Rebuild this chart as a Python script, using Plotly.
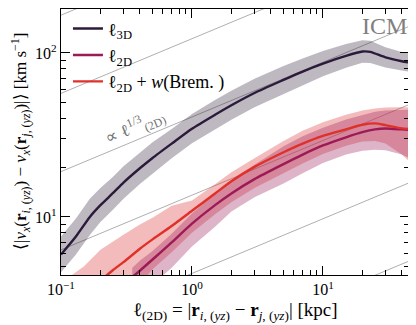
import numpy as np
import plotly.graph_objects as go

# ---- data (log-log) ----
x_3d = [0.1, 0.13, 0.166, 0.2, 0.25, 0.3, 0.4, 0.5, 0.7, 1.0, 1.5, 2.0, 3.0,
        5.0, 7.0, 10, 15, 20, 23, 30, 40, 45]
v_3d = [5.9, 7.6, 10.0, 11.8, 14.0, 16.2, 19.8, 22.9, 28.0, 34.5, 42.0, 48.0,
        57.0, 68.5, 77.0, 86, 96, 102, 101.5, 94, 89, 87.5]
hi_3d = [7.6, 9.8, 12.9, 15.0, 17.6, 20.4, 24.6, 28.5, 34.4, 42.4, 51.6, 58.8,
         69.6, 83.3, 92.6, 102.6, 113.3, 119.6, 118.8, 108.4, 101.4, 99.4]
lo_3d = [4.6, 5.9, 7.75, 9.3, 11.1, 12.9, 15.9, 18.4, 22.8, 28.1, 34.2, 39.2,
         46.7, 56.3, 64.0, 72.1, 81.3, 87.0, 86.7, 81.5, 78.1, 77.0]

x_2d = [0.35, 0.4, 0.5, 0.7, 1.0, 1.5, 2.0, 3.0, 5.0, 7.0, 10, 15, 20, 25,
        30, 40, 45]
v_2d = [4.3, 4.7, 5.5, 7.0, 9.1, 11.8, 13.9, 17.0, 21.0, 24.0, 27.3, 30.6,
        32.9, 34.2, 34.6, 34.2, 34.0]
hi_2d = [4.9, 5.4, 6.2, 7.9, 10.5, 13.9, 16.8, 20.8, 27.0, 31.0, 35.0, 39.3,
         42.0, 43.8, 44.5, 45.0, 45.0]
lo_2d = [3.0, 3.3, 3.9, 4.9, 6.6, 8.7, 10.8, 13.2, 16.0, 18.5, 21.3, 24.0,
         25.3, 25.7, 25.5, 24.0, 23.0]

x_br = [0.12, 0.15, 0.2, 0.25, 0.3, 0.4, 0.5, 0.7, 1.0, 1.5, 2.0, 3.0, 5.0,
        7.0, 10, 15, 20, 25, 30, 40, 45]
v_br = [3.2, 3.6, 4.1, 4.75, 5.3, 6.4, 7.3, 8.8, 10.9, 13.9, 16.5, 20.2,
        24.8, 28.0, 31.2, 34.2, 36.5, 37.2, 36.3, 34.7, 34.4]
hi_br = [4.4, 5.0, 6.3, 7.1, 7.8, 9.0, 9.9, 11.7, 12.6, 15.8, 18.7, 22.8,
         29.0, 33.5, 37.8, 42.0, 44.5, 45.8, 46.5, 46.7, 46.7]
lo_br = [2.0, 2.2, 2.6, 3.0, 3.3, 3.9, 4.8, 6.1, 8.0, 10.4, 12.3, 15.0,
         18.5, 21.2, 24.2, 27.2, 28.8, 29.0, 28.0, 24.0, 22.0]

# slope-1/3 guide lines: value at l = 0.1 kpc
guide_at_01 = [0.7, 2.1, 6.3, 18.9, 56.7, 170.0]
guide_x = [0.1, 46.0]

# the page body adds an 8 px offset, so the figure is 8 px smaller
X_RANGE = [-1.0, 1.657]
Y_RANGE = [0.646, 2.268]

FONT = "Liberation Serif"

fig = go.Figure()

# guide lines
for c in guide_at_01:
    gx = np.array(guide_x)
    fig.add_trace(go.Scatter(
        x=gx, y=c * (gx / 0.1) ** (1 / 3), mode="lines",
        line=dict(color="#9a9a9a", width=0.8),
        showlegend=False, hoverinfo="skip"))


def add_band(x, lo, hi, color):
    fig.add_trace(go.Scatter(x=x, y=lo, mode="lines", line=dict(width=0),
                             showlegend=False, hoverinfo="skip"))
    fig.add_trace(go.Scatter(x=x, y=hi, mode="lines", line=dict(width=0),
                             fill="tonexty", fillcolor=color,
                             showlegend=False, hoverinfo="skip"))


add_band(x_3d, lo_3d, hi_3d, "rgba(40,20,50,0.30)")
add_band(x_br, lo_br, hi_br, "rgba(220,60,60,0.35)")
add_band(x_2d, lo_2d, hi_2d, "rgba(160,40,100,0.35)")

line_shape = dict(shape="spline", smoothing=0.6)
fig.add_trace(go.Scatter(x=x_3d, y=v_3d, mode="lines", name="ℓ<sub>3D</sub>",
                         line=dict(color="#2b1a3a", width=2.4, **line_shape)))
fig.add_trace(go.Scatter(x=x_2d, y=v_2d, mode="lines", name="ℓ<sub>2D</sub>",
                         line=dict(color="#9c1a56", width=2.4, **line_shape)))
fig.add_trace(go.Scatter(x=x_br, y=v_br, mode="lines",
                         name="ℓ<sub>2D</sub> + <i>w</i>(Brem. )",
                         line=dict(color="#e0302a", width=2.4, **line_shape)))

x_minor = [0.2, 0.3, 0.4, 0.5, 0.6, 0.7, 0.8, 0.9, 2, 3, 4, 5, 6, 7, 8, 9,
           20, 30, 40]
y_minor = [5, 6, 7, 8, 9, 20, 30, 40, 50, 60, 70, 80, 90, 200]

axis_common = dict(
    type="log", showgrid=False, zeroline=False, automargin=False,
    showline=True, linecolor="black", linewidth=1.3, mirror="allticks",
    ticks="inside", ticklen=9, tickwidth=1.3, tickcolor="black",
    tickfont=dict(family=FONT, size=16, color="black"),
)

x_title = ("ℓ<sub>(2D)</sub> = |<b>r</b><sub><i>i</i>, (<i>yz</i>)</sub>"
           " − <b>r</b><sub><i>j</i>, (<i>yz</i>)</sub>| [kpc]")
y_title = ("⟨|<i>v<sub>x</sub></i>(<b>r</b><sub><i>i</i>, (<i>yz</i>)</sub>)"
           " − <i>v<sub>x</sub></i>(<b>r</b><sub><i>j</i>, (<i>yz</i>)</sub>)|⟩"
           " [km s<sup>−1</sup>]")

fig.update_layout(
    width=408, height=317,
    paper_bgcolor="white", plot_bgcolor="white",
    margin=dict(l=53, r=7, t=1, b=50),
    font=dict(family=FONT, size=16, color="black"),
    xaxis=dict(
        **axis_common, range=X_RANGE,
        tickvals=[0.1, 1, 10],
        ticktext=["10<sup>−1</sup>", "10<sup>0</sup>", "10<sup>1</sup>"],
        minor=dict(tickvals=x_minor, ticks="inside", ticklen=5,
                   tickwidth=1, tickcolor="black", showgrid=False),
    ),
    yaxis=dict(
        **axis_common, range=Y_RANGE,
        tickvals=[10, 100],
        ticktext=["10<sup>1</sup>", "10<sup>2</sup>"],
        minor=dict(tickvals=y_minor, ticks="inside", ticklen=5,
                   tickwidth=1, tickcolor="black", showgrid=False),
    ),
    legend=dict(x=0.02, y=0.995, xanchor="left", yanchor="top",
                traceorder="normal",
                bgcolor="rgba(0,0,0,0)", font=dict(family=FONT, size=18),
                tracegroupgap=0),
    annotations=[
        dict(text=x_title, xref="paper", yref="paper", x=0.5, y=0,
             xanchor="center", yanchor="top", yshift=-22,
             showarrow=False, font=dict(family=FONT, size=19)),
        dict(text=y_title, xref="paper", yref="paper", x=0, y=0.5,
             xanchor="center", yanchor="middle", xshift=-41, textangle=-90,
             showarrow=False, font=dict(family=FONT, size=17)),
        dict(text="ICM", xref="paper", yref="paper", x=1.0, y=1.0,
             xanchor="right", yanchor="top", yshift=-2, showarrow=False,
             font=dict(family=FONT, size=24, color="#808080")),
        dict(text="∝ ℓ<sup>1/3</sup><sub>(2D)</sub>", xref="x", yref="y",
             x=-0.435, y=1.55, showarrow=False, textangle=-22.6,
             font=dict(family=FONT, size=17, color="#707070")),
    ],
)

fig.write_html("out.html")
